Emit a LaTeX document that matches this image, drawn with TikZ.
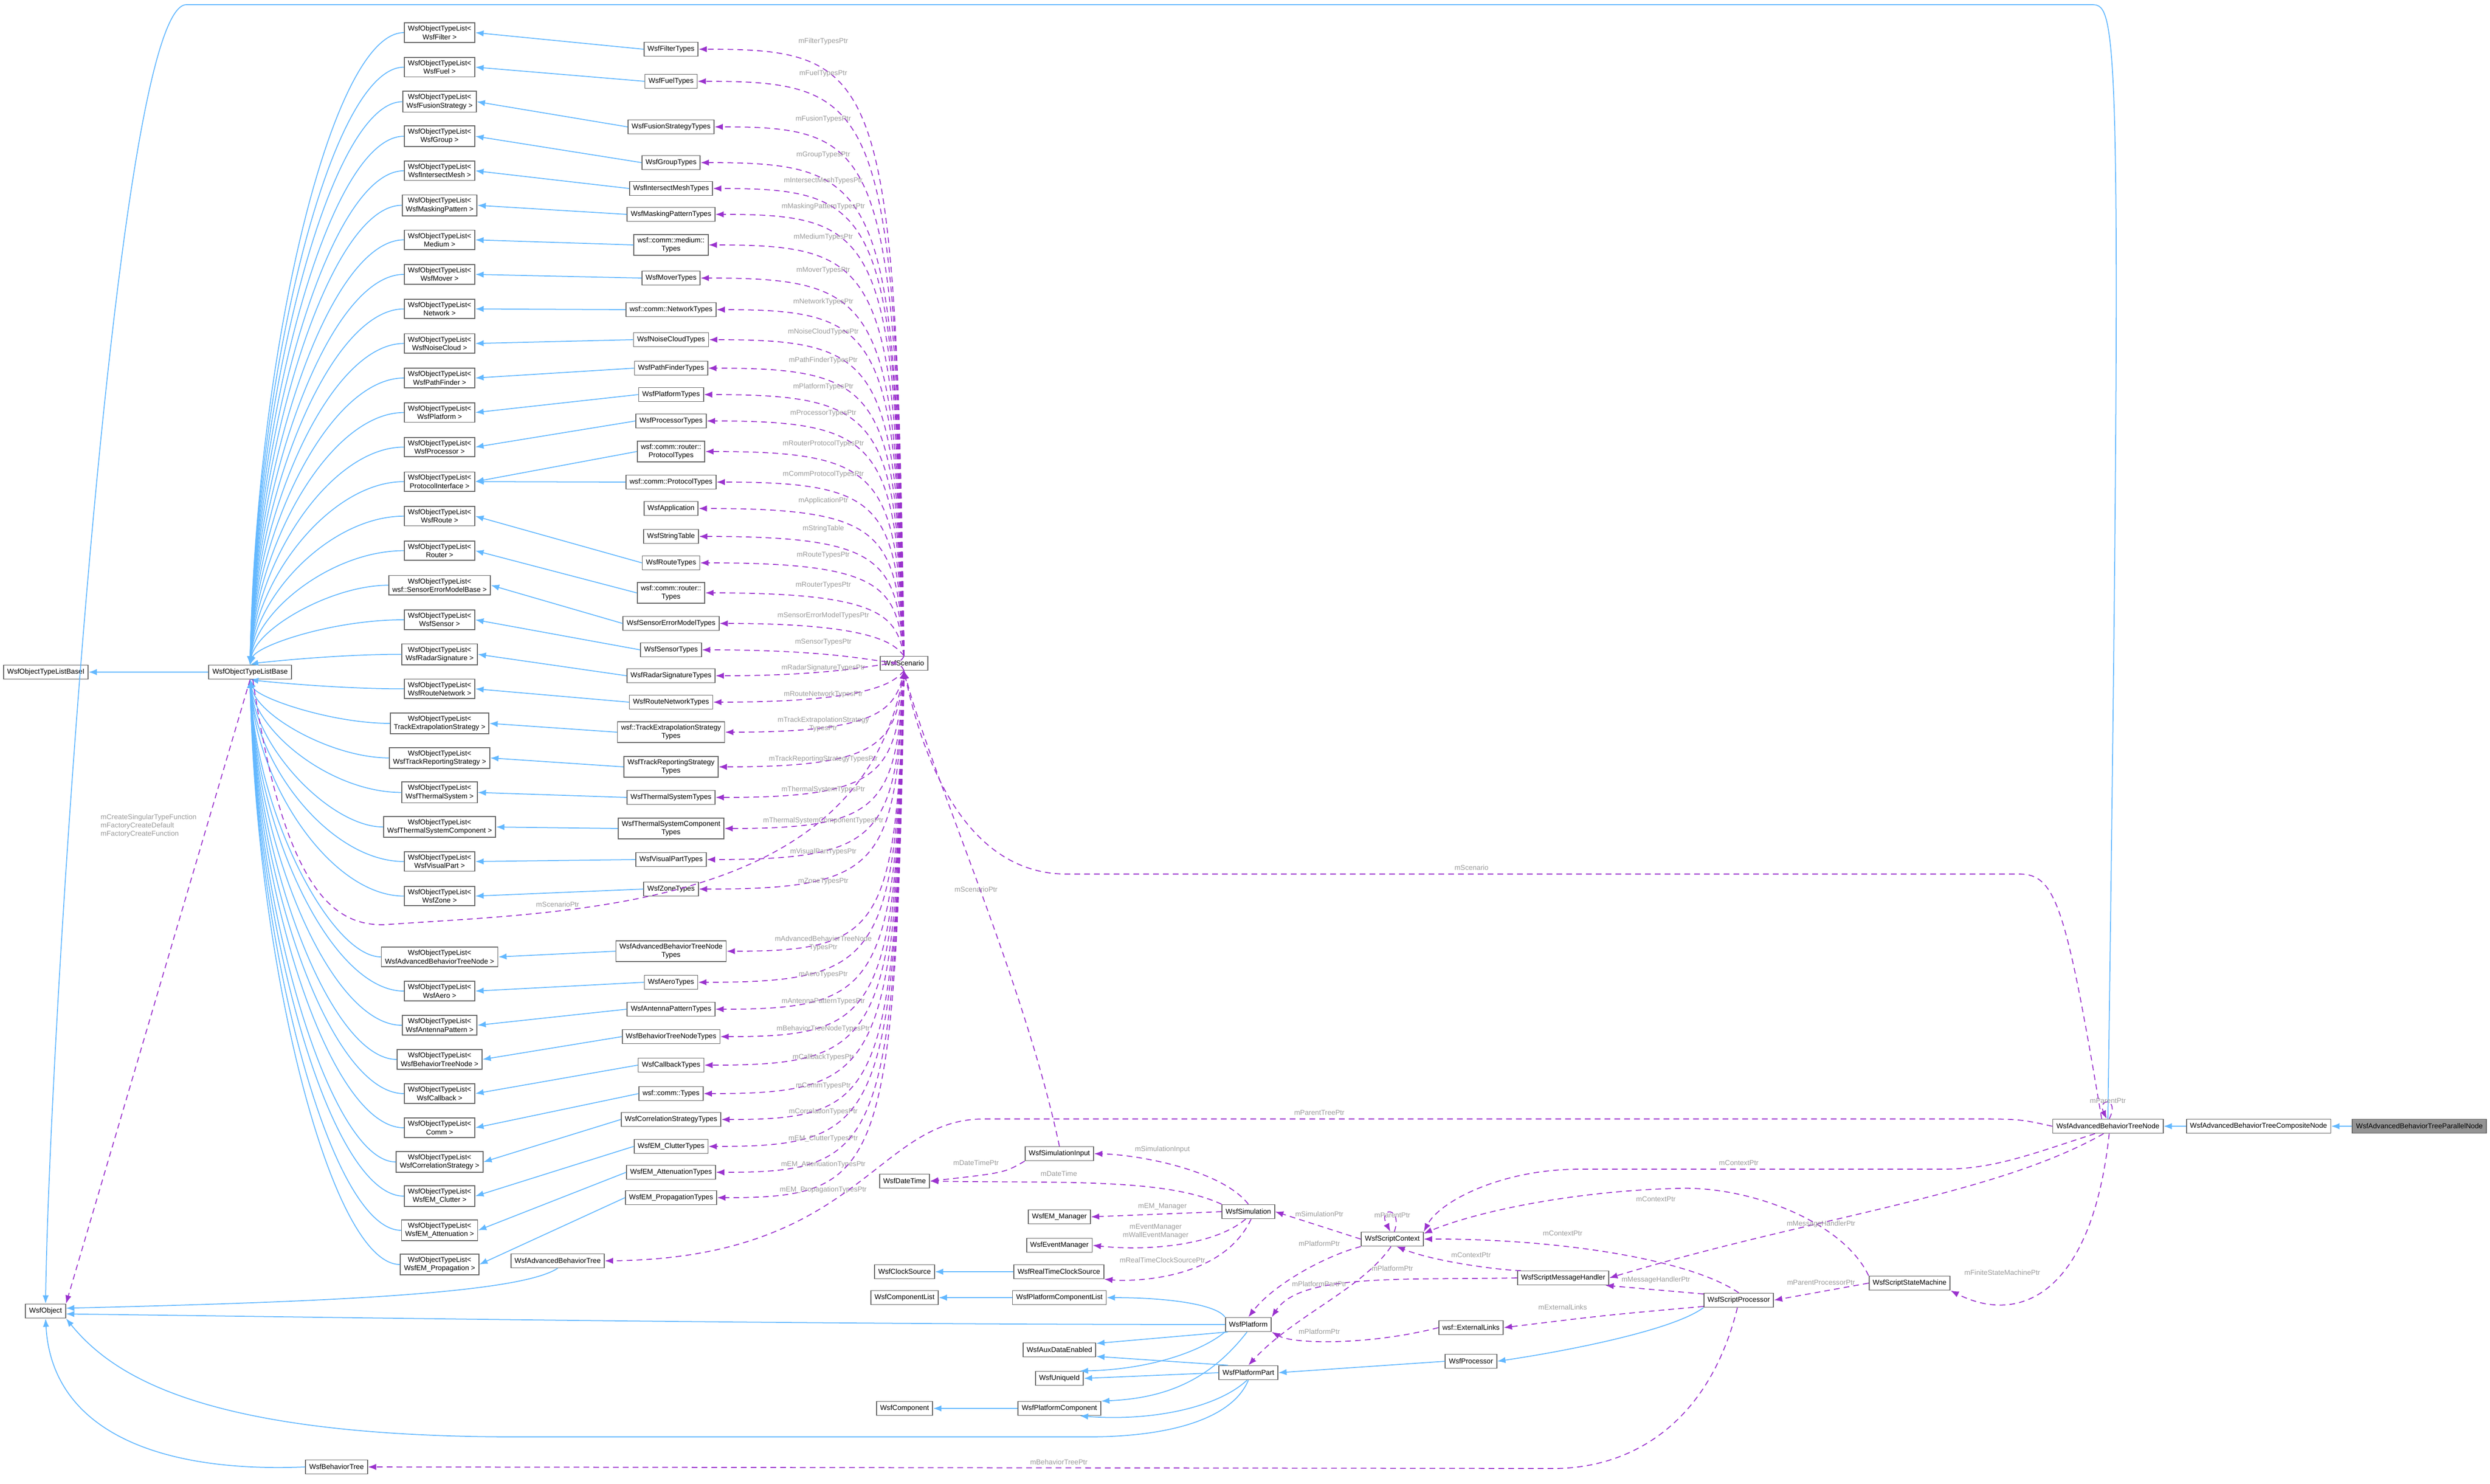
\documentclass[tikz,border=0pt]{standalone}
\usepackage{fontspec}
\setmainfont{Liberation Sans}
\usetikzlibrary{arrows.meta}
\definecolor{inhc}{HTML}{63B8FF}
\definecolor{usec}{HTML}{9A32CD}
\definecolor{lblc}{HTML}{9A9A9A}
\definecolor{boxc}{HTML}{666666}
\newcommand{\nf}{\fontsize{3.9}{4.6}\selectfont}
\begin{document}
\begin{tikzpicture}[
  box/.style={draw=boxc, fill=white, font=\nf, inner xsep=2pt, inner ysep=1.6pt, minimum height=0.27cm, align=center, line width=0.5pt},
  inh/.style={draw=inhc, line width=0.5pt, -{Latex[length=1.6mm,width=1.2mm]}},
  use/.style={draw=usec, line width=0.5pt, dash pattern=on 1.1mm off 0.8mm, -{Latex[length=1.6mm,width=1.2mm]}},
  lbl/.style={text=lblc, font=\nf, inner sep=0.5pt, align=center}]
\useasboundingbox (0,0) rectangle (48.09,-28.65);

% base nodes
\node[box] (Base) at (4.83,-12.98) {WsfObjectTypeListBase};
\node[box] (BaseI) at (0.885,-12.98) {WsfObjectTypeListBaseI};
\node[box] (WObj) at (0.88,-25.32) {WsfObject};
\node[box] (BTree) at (6.5,-28.33) {WsfBehaviorTree};
\node[box] (AdvBT) at (10.77,-24.35) {WsfAdvancedBehaviorTree};
\node[box] (S) at (17.46,-12.81) {WsfScenario};

% left column
\foreach \i/\t in {1/WsfFilter,2/WsfFuel,3/WsfFusionStrategy,4/WsfGroup,5/WsfIntersectMesh,6/WsfMaskingPattern,7/Medium,8/WsfMover,9/Network,10/WsfNoiseCloud,11/WsfPathFinder,12/WsfPlatform,13/WsfProcessor,14/ProtocolInterface,15/WsfRoute,16/Router,17/wsf::SensorErrorModelBase,18/WsfSensor,19/WsfRadarSignature,20/WsfRouteNetwork,21/TrackExtrapolationStrategy,22/WsfTrackReportingStrategy,23/WsfThermalSystem,24/WsfThermalSystemComponent,25/WsfVisualPart,26/WsfZone,27/WsfAdvancedBehaviorTreeNode,28/WsfAero,29/WsfAntennaPattern,30/WsfBehaviorTreeNode,31/WsfCallback,32/Comm,33/WsfCorrelationStrategy,34/WsfEM\_Clutter,35/WsfEM\_Attenuation,36/WsfEM\_Propagation}{
  \pgfmathsetmacro\yy{\i<27 ? 0.63+0.667*(\i-1) : 18.48+0.66*(\i-27)}
  \node[box] (L\i) at (8.49,-\yy) {WsfObjectTypeList<\\\t\ >};
  \pgfmathsetmacro\ym{-(\yy+12.98)/2}
  \ifdim\yy pt<12.9pt
    \draw[inh] (L\i.west) .. controls (6.4,-\yy) and (4.95,\ym) .. (Base.north);
  \else
    \draw[inh] (L\i.west) .. controls (6.4,-\yy) and (4.95,\ym) .. (Base.south);
  \fi
}

% types column
\foreach \i/\k/\t/\y/\l in {1/1/WsfFilterTypes/95/mFilterTypesPtr,
2/2/WsfFuelTypes/157/mFuelTypesPtr,
3/3/WsfFusionStrategyTypes/245/mFusionTypesPtr,
4/4/WsfGroupTypes/314/mGroupTypesPtr,
5/5/WsfIntersectMeshTypes/364/mIntersectMeshTypesPtr,
6/6/WsfMaskingPatternTypes/414/mMaskingPatternTypesPtr,
7/7/{wsf::comm::medium::\\Types}/473/mMediumTypesPtr,
8/8/WsfMoverTypes/537/mMoverTypesPtr,
9/9/wsf::comm::NetworkTypes/598/mNetworkTypesPtr,
10/10/WsfNoiseCloudTypes/656/mNoiseCloudTypesPtr,
11/11/WsfPathFinderTypes/711/mPathFinderTypesPtr,
12/12/WsfPlatformTypes/762/mPlatformTypesPtr,
13/13/WsfProcessorTypes/813/mProcessorTypesPtr,
14/14/{wsf::comm::router::\\ProtocolTypes}/872/mRouterProtocolTypesPtr,
37/14/wsf::comm::ProtocolTypes/931/mCommProtocolTypesPtr,
38/0/WsfApplication/982/mApplicationPtr,
39/0/WsfStringTable/1036/mStringTable,
15/15/WsfRouteTypes/1087/mRouteTypesPtr,
16/16/{wsf::comm::router::\\Types}/1145/mRouterTypesPtr,
17/17/WsfSensorErrorModelTypes/1204/mSensorErrorModelTypesPtr,
18/18/WsfSensorTypes/1255/mSensorTypesPtr,
19/19/WsfRadarSignatureTypes/1305/mRadarSignatureTypesPtr,
20/20/WsfRouteNetworkTypes/1356/mRouteNetworkTypesPtr,
21/21/{wsf::TrackExtrapolationStrategy\\Types}/1414/{mTrackExtrapolationStrategy\\TypesPtr},
22/22/{WsfTrackReportingStrategy\\Types}/1481/mTrackReportingStrategyTypesPtr,
23/23/WsfThermalSystemTypes/1540/mThermalSystemTypesPtr,
24/24/{WsfThermalSystemComponent\\Types}/1600/mThermalSystemComponentTypesPtr,
25/25/WsfVisualPartTypes/1660/mVisualPartTypesPtr,
26/26/WsfZoneTypes/1717/mZoneTypesPtr,
27/27/{WsfAdvancedBehaviorTreeNode\\Types}/1837/{mAdvancedBehaviorTreeNode\\TypesPtr},
28/28/WsfAeroTypes/1897/mAeroTypesPtr,
29/29/WsfAntennaPatternTypes/1949/mAntennaPatternTypesPtr,
30/30/WsfBehaviorTreeNodeTypes/2002/mBehaviorTreeNodeTypesPtr,
31/31/WsfCallbackTypes/2057/mCallbackTypesPtr,
32/32/wsf::comm::Types/2112/mCommTypesPtr,
33/33/WsfCorrelationStrategyTypes/2162/mCorrelationTypesPtr,
34/34/WsfEM\_ClutterTypes/2214/mEM\_ClutterTypesPtr,
35/35/WsfEM\_AttenuationTypes/2264/mEM\_AttenuationTypesPtr,
36/36/WsfEM\_PropagationTypes/2313/mEM\_PropagationTypesPtr}{
  \pgfmathsetmacro\yc{\y/100}
  \node[box] (T\i) at (12.96,-\yc) {\t};
  \ifnum\k>0 \draw[inh] (T\i.west) -- (L\k.east); \fi
  \ifnum\y<1281
    \pgfmathsetmacro\yq{-\yc-0.45}
    \draw[use] (S.north) .. controls (17.3,\yq) and (17.05,-\yc) .. (T\i.east);
  \else
    \pgfmathsetmacro\yq{-\yc+0.45}
    \draw[use] (S.south) .. controls (17.3,\yq) and (17.05,-\yc) .. (T\i.east);
  \fi
  \pgfmathsetmacro\yl{-\yc+0.15}
  \node[lbl] at (15.9,\yl) {\l};
}

% lower middle nodes
\node[box] (SimIn) at (20.46,-22.28) {WsfSimulationInput};
\node[box] (DT) at (17.47,-22.81) {WsfDateTime};
\node[box] (EMM) at (20.46,-23.50) {WsfEM\_Manager};
\node[box] (EvM) at (20.46,-24.05) {WsfEventManager};
\node[box] (Sim) at (24.11,-23.40) {WsfSimulation};
\node[box] (CS) at (17.47,-24.56) {WsfClockSource};
\node[box] (RTCS) at (20.45,-24.56) {WsfRealTimeClockSource};
\node[box] (CL) at (17.47,-25.06) {WsfComponentList};
\node[box] (PCL) at (20.46,-25.06) {WsfPlatformComponentList};
\node[box] (Plat) at (24.11,-25.58) {WsfPlatform};
\node[box] (ADE) at (20.46,-26.07) {WsfAuxDataEnabled};
\node[box] (UID) at (20.46,-26.62) {WsfUniqueId};
\node[box] (PP) at (24.11,-26.51) {WsfPlatformPart};
\node[box] (Comp) at (17.47,-27.20) {WsfComponent};
\node[box] (PC) at (20.46,-27.20) {WsfPlatformComponent};
\node[box] (SC) at (26.89,-23.93) {WsfScriptContext};
\node[box] (SMH) at (30.19,-24.68) {WsfScriptMessageHandler};
\node[box] (SP) at (33.58,-25.11) {WsfScriptProcessor};
\node[box] (EL) at (28.41,-25.64) {wsf::ExternalLinks};
\node[box] (Proc) at (28.41,-26.29) {WsfProcessor};
\node[box] (SSM) at (36.88,-24.78) {WsfScriptStateMachine};
\node[box] (ABTN) at (40.71,-21.75) {WsfAdvancedBehaviorTreeNode};
\node[box] (Comp2) at (43.62,-21.75) {WsfAdvancedBehaviorTreeCompositeNode};
\node[box, fill=black!42, anchor=east] (Par) at (48.03,-21.75) {WsfAdvancedBehaviorTreeParallelNode};

% blue inheritance
\draw[inh] (Base.west) -- (BaseI.east);
\draw[inh] (ABTN.north) .. controls (41.0,-0.4) and (40.9,-0.09) .. (40.4,-0.09) -- (3.6,-0.09) .. controls (2.2,-0.09) and (0.95,-20) .. (WObj.north);
\draw[inh] (Comp2.west) -- (ABTN.east);
\draw[inh] (Par.west) -- (Comp2.east);
\draw[inh] (AdvBT.south) .. controls (10.0,-25.0) and (6,-25.15) .. (WObj.8);
\draw[inh] (Plat.west) .. controls (15,-25.58) and (5,-25.42) .. (WObj.-8);
\draw[inh] (PP.south) .. controls (23.8,-27.4) and (22.6,-27.75) .. (21.0,-27.75) -- (10.0,-27.75) .. controls (4,-27.75) and (2.2,-26.6) .. (WObj.south east);
\draw[inh] (BTree.west) .. controls (3,-28.45) and (1.0,-27.6) .. (WObj.south);
\draw[inh] (RTCS.west) -- (CS.east);
\draw[inh] (PCL.west) -- (CL.east);
\draw[inh] (PC.west) -- (Comp.east);
\draw[inh] (Plat.north west) .. controls (23.5,-25.2) and (22.6,-25.06) .. (PCL.east);
\draw[inh] (Plat.200) -- (ADE.10);
\draw[inh] (Plat.south west) .. controls (23.2,-26.1) and (22.2,-26.45) .. (UID.20);
\draw[inh] (Plat.-100) .. controls (23.4,-26.6) and (22.6,-27.0) .. (PC.10);
\draw[inh] (PP.160) -- (ADE.-10);
\draw[inh] (PP.west) -- (UID.east);
\draw[inh] (PP.-100) .. controls (23.5,-27.2) and (22.2,-27.45) .. (PC.-20);
\draw[inh] (Proc.west) -- (PP.east);
\draw[inh] (SP.south west) .. controls (32.3,-25.7) and (30.2,-26.1) .. (Proc.east);

% purple usage
\draw[use] (Base.south) -- (WObj.north east);
\node[lbl, align=left] at (2.87,-15.95) {mCreateSingularTypeFunction\\mFactoryCreateDefault\\mFactoryCreateFunction};
\draw[use] (Base.-70) .. controls (5.5,-17.3) and (6.5,-17.86) .. (7.4,-17.86) .. controls (11,-17.6) and (16.6,-17.6) .. (S.south);
\node[lbl] at (10.77,-17.47) {mScenarioPtr};
\draw[use] (SimIn.north) .. controls (19.8,-19) and (18.0,-15) .. (S.south);
\node[lbl] at (18.85,-17.18) {mScenarioPtr};
\draw[use] (ABTN.130) .. controls (39.9,-17.5) and (39.7,-16.88) .. (39.0,-16.88) -- (20.6,-16.88) .. controls (18.8,-16.88) and (17.9,-15.0) .. (S.south);
\node[lbl] at (28.42,-16.76) {mScenario};
\draw[use] (ABTN.west) .. controls (39.0,-21.61) .. (38.0,-21.61) -- (19.0,-21.61) .. controls (16.9,-21.61) and (16.6,-24.3) .. (AdvBT.east);
\node[lbl] at (25.48,-21.49) {mParentTreePtr};
\draw[use] (Sim.north) .. controls (23.6,-22.6) and (22.0,-22.3) .. (SimIn.east);
\node[lbl] at (22.45,-22.2) {mSimulationInput};
\draw[use] (SimIn.south west) .. controls (19.4,-22.65) .. (DT.east);
\node[lbl] at (18.85,-22.46) {mDateTimePtr};
\draw[use] (Sim.north west) .. controls (22.5,-22.75) and (20.5,-22.85) .. (DT.east);
\node[lbl] at (20.45,-22.67) {mDateTime};
\draw[use] (Sim.west) -- (EMM.east);
\node[lbl] at (22.45,-23.30) {mEM\_Manager};
\draw[use] (Sim.-110) .. controls (23.4,-24.1) and (22.0,-24.15) .. (EvM.east);
\node[lbl] at (22.32,-23.78) {mEventManager\\mWallEventManager};
\draw[use] (Sim.-70) .. controls (23.6,-24.75) and (21.8,-24.75) .. (RTCS.south east);
\node[lbl] at (22.45,-24.34) {mRealTimeClockSourcePtr};
\draw[use] (SC.west) -- (Sim.east);
\node[lbl] at (25.48,-23.45) {mSimulationPtr};
\draw[use] (SC.south west) .. controls (25.6,-24.25) and (24.6,-24.8) .. (Plat.north);
\node[lbl] at (25.48,-24.02) {mPlatformPtr};
\draw[use] (SMH.west) .. controls (27,-24.72) and (25.1,-24.6) .. (Plat.north east);
\node[lbl] at (26.89,-24.50) {mPlatformPtr};
\draw[use] (SC.-100) .. controls (26.3,-24.9) and (25.0,-25.4) .. (PP.north);
\node[lbl] at (25.48,-24.80) {mPlatformPartPtr};
\draw[use] (EL.west) .. controls (26.5,-25.97) and (25,-25.97) .. (Plat.south east);
\node[lbl] at (25.48,-25.72) {mPlatformPtr};
\draw[use] (SC.75) .. controls (27.1,-23.3) and (26.6,-23.3) .. (SC.105);
\node[lbl] at (26.89,-23.47) {mParentPtr};
\draw[use] (ABTN.-150) .. controls (39.2,-22.3) and (38.5,-22.58) .. (37.5,-22.58) -- (30.5,-22.58) .. controls (29.0,-22.58) and (27.8,-23.2) .. (SC.north east);
\node[lbl] at (33.58,-22.46) {mContextPtr};
\draw[use] (SSM.north west) .. controls (35.6,-23.6) and (33.8,-22.9) .. (32.4,-22.95) .. controls (30.4,-23.0) and (28.5,-23.4) .. (SC.10);
\node[lbl] at (31.98,-23.16) {mContextPtr};
\draw[use] (SP.north) .. controls (32.6,-24.3) and (30,-23.92) .. (SC.east);
\node[lbl] at (30.18,-23.82) {mContextPtr};
\draw[use] (SMH.170) .. controls (29.2,-24.55) and (27.8,-24.4) .. (SC.-60);
\node[lbl] at (28.41,-24.24) {mContextPtr};
\draw[use] (ABTN.-120) .. controls (38.5,-23.1) and (35,-23.5) .. (SMH.east);
\node[lbl] at (35.17,-23.64) {mMessageHandlerPtr};
\draw[use] (SP.170) -- (SMH.-10);
\node[lbl] at (31.98,-24.72) {mMessageHandlerPtr};
\draw[use] (SP.190) .. controls (31,-25.4) .. (EL.east);
\node[lbl] at (30.18,-25.25) {mExternalLinks};
\draw[use] (SSM.west) -- (SP.east);
\node[lbl] at (35.17,-24.77) {mParentProcessorPtr};
\draw[use] (ABTN.-80) .. controls (40.4,-25.0) and (39.0,-25.6) .. (SSM.south east);
\node[lbl] at (38.67,-24.58) {mFiniteStateMachinePtr};
\draw[use] (ABTN.80) .. controls (40.95,-21.2) and (40.5,-21.2) .. (ABTN.100);
\node[lbl] at (40.71,-21.26) {mParentPtr};
\draw[use] (SP.-100) .. controls (33.0,-27.5) and (31.5,-28.36) .. (30.0,-28.36) -- (BTree.east);
\node[lbl] at (20.45,-28.24) {mBehaviorTreePtr};
\end{tikzpicture}
\end{document}
